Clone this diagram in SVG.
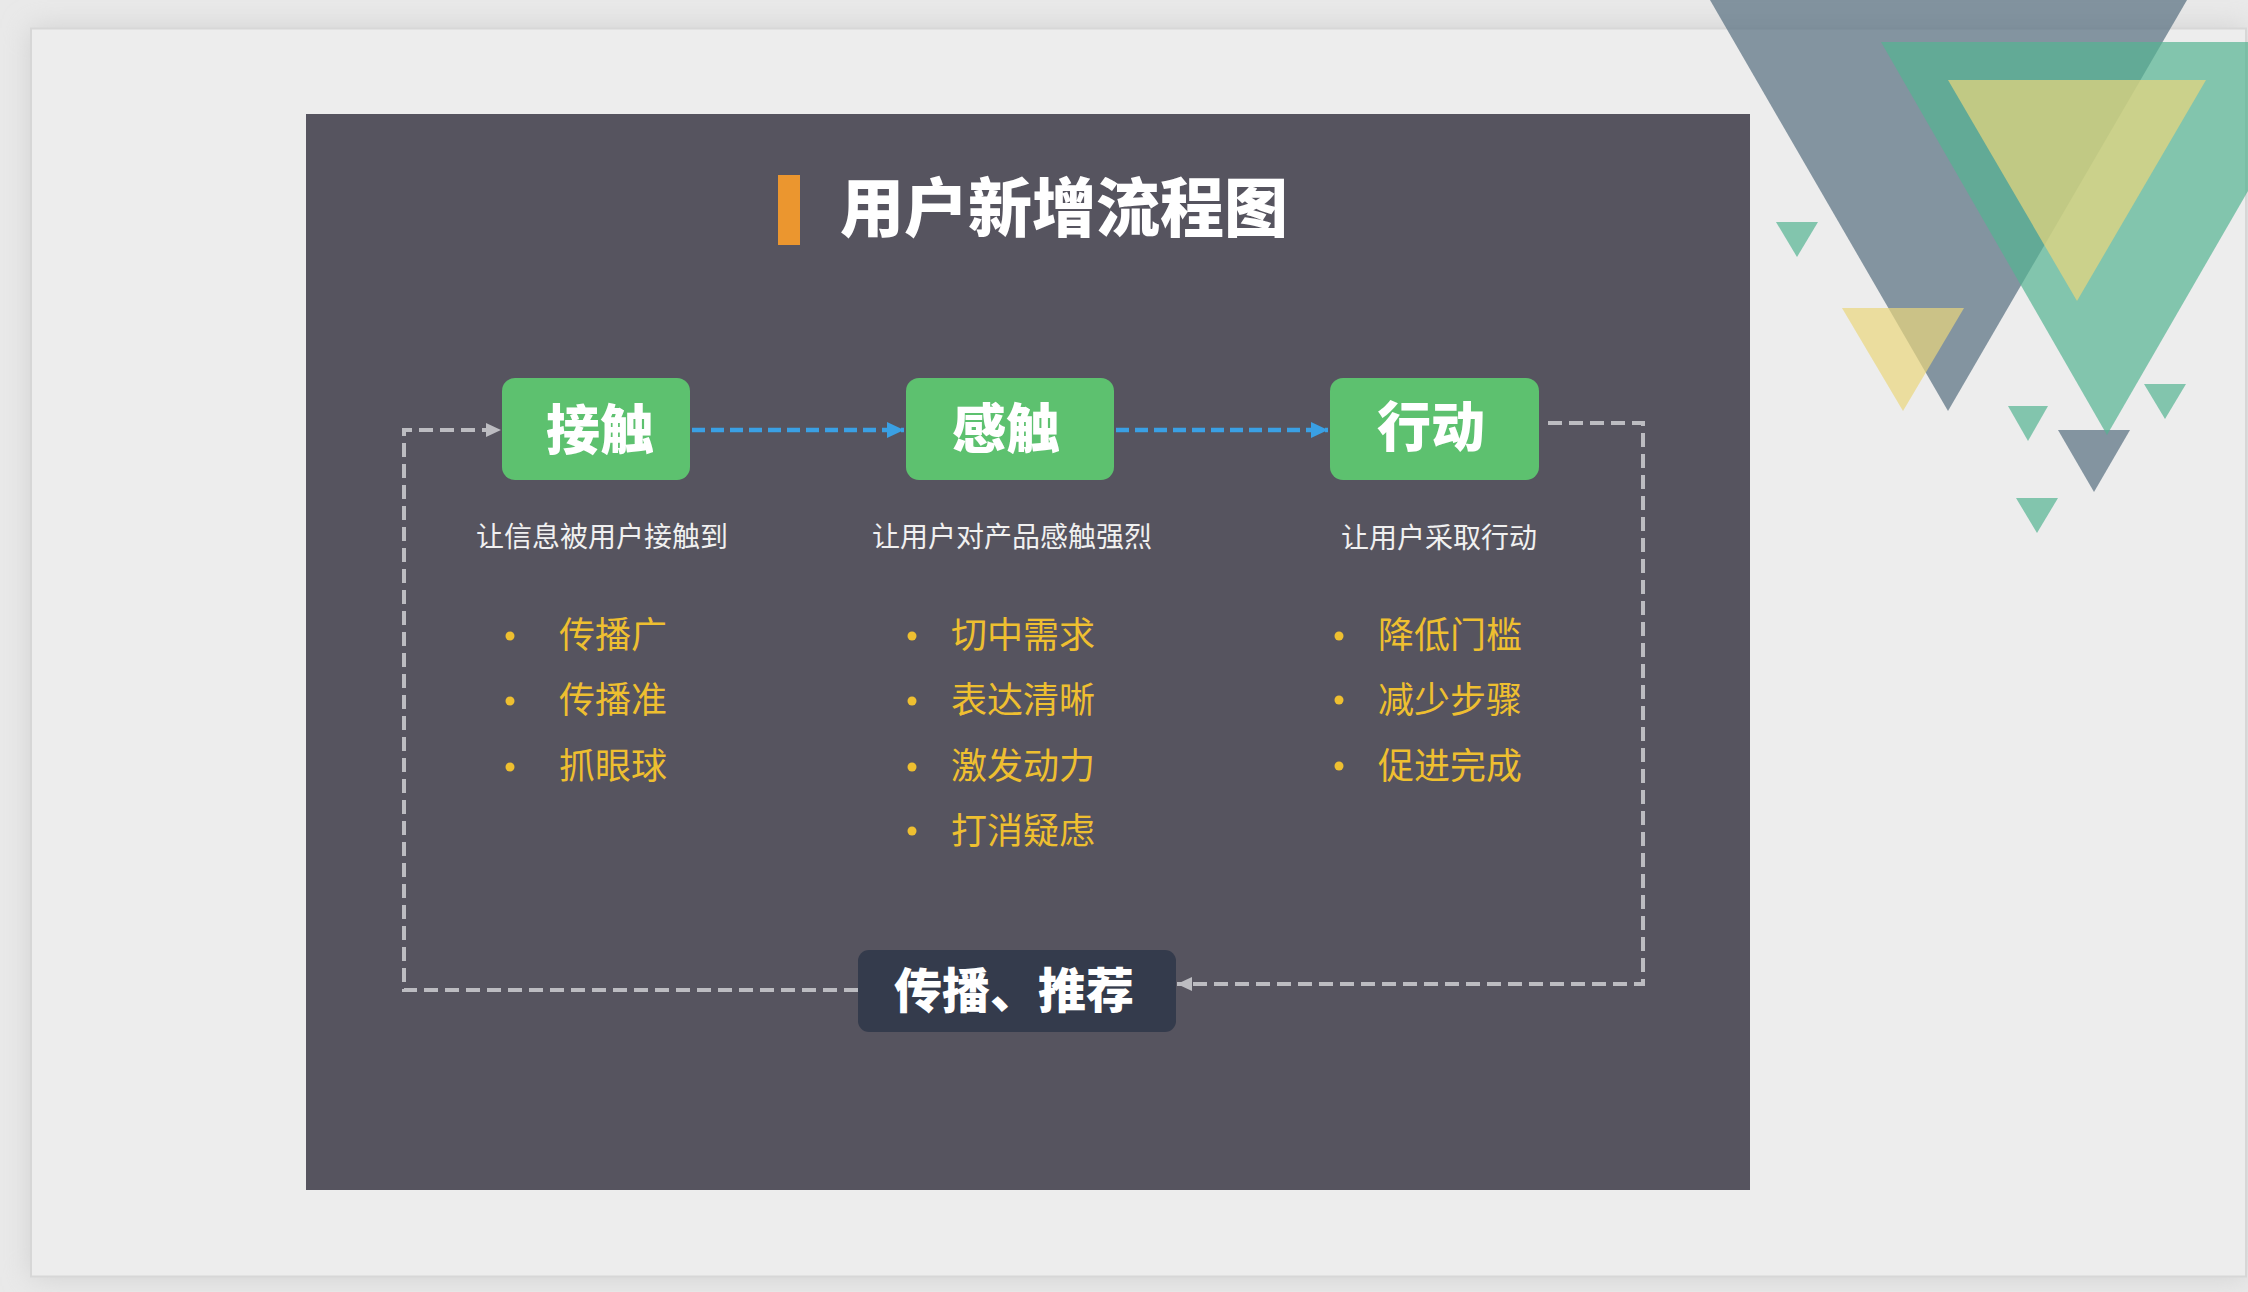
<svg xmlns="http://www.w3.org/2000/svg" width="2248" height="1292" viewBox="0 0 2248 1292">
<defs>
<style>
.cjk{font-family:"Noto Sans CJK SC","Noto Sans",sans-serif;}
.title{font-size:64px;font-weight:900;fill:#ffffff;}
.boxtxt{font-size:54px;font-weight:900;fill:#ffffff;text-anchor:middle;dominant-baseline:central;}
.sub{font-size:28px;fill:#f0f0f0;text-anchor:middle;dominant-baseline:central;}
.item{font-size:36px;fill:#eebf30;dominant-baseline:central;}
.dot{fill:#eebf30;}
.gbox{fill:#5dc16f;}
.dashg{fill:none;stroke:#bcbcc1;stroke-width:4;stroke-dasharray:14 7;}
.dashb{fill:none;stroke:#3aa0e4;stroke-width:4.5;stroke-dasharray:13 6;}
.tg{fill:#566e7f;opacity:0.7;}
.tgr{fill:#54b392;opacity:0.7;}
.ty{fill:#e9d57c;opacity:0.7;}
</style>
<filter id="sh" x="-5%" y="-5%" width="110%" height="110%"><feGaussianBlur stdDeviation="14"/></filter>
<marker id="ab" markerUnits="userSpaceOnUse" markerWidth="18" markerHeight="18" refX="17" refY="9" orient="auto"><path d="M0,1 L17,9 L0,17 z" fill="#3aa0e4"/></marker>
<marker id="ag" markerUnits="userSpaceOnUse" markerWidth="16" markerHeight="16" refX="15" refY="8" orient="auto"><path d="M0,1 L15,8 L0,15 z" fill="#bcbcc1"/></marker>
</defs>
<rect x="0" y="0" width="2248" height="1292" fill="#e9e9e9"/>
<rect x="31" y="28" width="2215" height="1249" fill="#cfcfcf" filter="url(#sh)"/>
<rect x="31" y="28.5" width="2215" height="1248" fill="#ededed" stroke="#d7d7d7" stroke-width="2"/>
<rect x="306" y="114" width="1444" height="1076" fill="#56545f"/>

<g id="decor">
<polygon class="tg" points="1710,0 2187,0 1948,411"/>
<polygon class="tg" points="2058,430 2130,430 2094,492"/>
<polygon class="ty" points="1842,308 1964,308 1903,411"/>
<polygon class="tgr" points="1881,42 2334,42 2107,435"/>
<polygon class="ty" points="1948,80 2206,80 2077,301"/>
<polygon class="tgr" points="1776,222 1818,222 1797,257"/>
<polygon class="tgr" points="2008,406 2048,406 2028,441"/>
<polygon class="tgr" points="2144,384 2186,384 2165,419"/>
<polygon class="tgr" points="2016,498 2058,498 2037,533"/>
</g>

<g id="title">
<rect x="778" y="175" width="22" height="70" fill="#eb962f"/>
<text class="cjk title" x="840" y="203" dominant-baseline="central">用户新增流程图</text>
</g>

<g id="connectors">
<path class="dashb" d="M692,430 L904,430" marker-end="url(#ab)"/>
<path class="dashb" d="M1116,430 L1328,430" marker-end="url(#ab)"/>
<path class="dashg" d="M858,990 L404,990 L404,430 L501,430" marker-end="url(#ag)"/>
<path class="dashg" d="M1548,423 L1643,423 L1643,984 L1177,984" marker-end="url(#ag)"/>
</g>

<g id="node-jiechu">
<rect class="gbox" x="502" y="378" width="188" height="102" rx="13"/>
<text class="cjk boxtxt" x="600" y="426">接触</text>
<text class="cjk sub" x="602" y="535">让信息被用户接触到</text>
<circle class="dot" cx="510" cy="636" r="4.5"/>
<text class="cjk item" x="559" y="632">传播广</text>
<circle class="dot" cx="510" cy="701" r="4.5"/>
<text class="cjk item" x="559" y="697">传播准</text>
<circle class="dot" cx="510" cy="767" r="4.5"/>
<text class="cjk item" x="559" y="763">抓眼球</text>
</g>

<g id="node-ganchu">
<rect class="gbox" x="906" y="378" width="208" height="102" rx="13"/>
<text class="cjk boxtxt" x="1006" y="425">感触</text>
<text class="cjk sub" x="1012" y="535">让用户对产品感触强烈</text>
<circle class="dot" cx="912" cy="636" r="4.5"/>
<text class="cjk item" x="951" y="632">切中需求</text>
<circle class="dot" cx="912" cy="701" r="4.5"/>
<text class="cjk item" x="951" y="697">表达清晰</text>
<circle class="dot" cx="912" cy="767" r="4.5"/>
<text class="cjk item" x="951" y="763">激发动力</text>
<circle class="dot" cx="912" cy="831" r="4.5"/>
<text class="cjk item" x="951" y="828">打消疑虑</text>
</g>

<g id="node-xingdong">
<rect class="gbox" x="1330" y="378" width="209" height="102" rx="13"/>
<text class="cjk boxtxt" x="1431" y="423">行动</text>
<text class="cjk sub" x="1439" y="536">让用户采取行动</text>
<circle class="dot" cx="1339" cy="636" r="4.5"/>
<text class="cjk item" x="1378" y="632">降低门槛</text>
<circle class="dot" cx="1339" cy="700" r="4.5"/>
<text class="cjk item" x="1378" y="697">减少步骤</text>
<circle class="dot" cx="1339" cy="766" r="4.5"/>
<text class="cjk item" x="1378" y="763">促进完成</text>
</g>

<g id="node-tuijian">
<rect x="858" y="950" width="318" height="82" rx="11" fill="#343b4c"/>
<text class="cjk boxtxt" x="1014" y="987" style="font-size:48px">传播、推荐</text>
</g>
</svg>
